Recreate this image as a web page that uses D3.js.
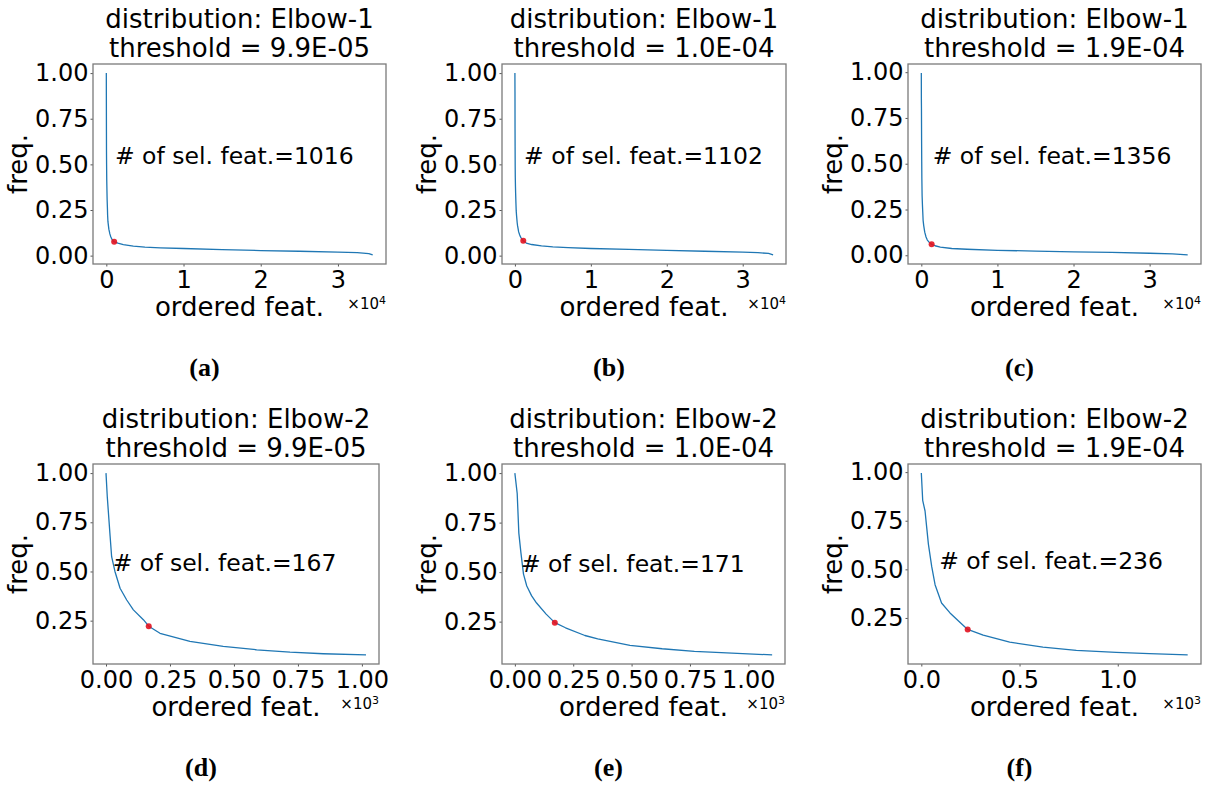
<!DOCTYPE html>
<html>
<head>
<meta charset="utf-8">
<script src="https://cdn.jsdelivr.net/npm/d3@7"></script>
<style>
  body { margin: 0; background: #fff; }
  svg { display: block; }
  text { font-family: "DejaVu Sans", sans-serif; fill: #000; }
</style>
</head>
<body>
<svg id="fig" width="1207" height="786"></svg>
<script>
// ---- data: ordered feature rank vs. normalised frequency ----
// head of each ranking (the features kept by Elbow-1, re-ranked for Elbow-2)
const headLow  = [[0,1.0],[5,0.88],[16,0.68],[22,0.575],[35,0.5],[55,0.415],[81,0.355],[107,0.305],[146,0.255],[167,0.222],[211,0.186],[328,0.145],[458,0.119],[589,0.102],[719,0.09],[849,0.082],[1016,0.076]];
const headMid  = [[0,1.0],[10,0.897],[17,0.697],[26,0.597],[37,0.49],[51,0.43],[72,0.38],[93,0.344],[134,0.288],[171,0.245],[217,0.219],[300,0.18],[355,0.163],[493,0.13],[631,0.113],[769,0.1],[907,0.092],[1102,0.082]];
const headHigh = [[0,0.995],[7,0.855],[19,0.8],[27,0.72],[36,0.63],[53,0.514],[70,0.421],[103,0.327],[146,0.276],[188,0.236],[236,0.191],[315,0.162],[450,0.126],[619,0.1],[789,0.083],[992,0.073],[1161,0.067],[1356,0.06]];
// long tails of the full rankings
const tailLow  = [[1500,0.068],[2200,0.060],[3500,0.052],[5000,0.047],[7000,0.043],[10000,0.039],[15000,0.033],[20000,0.028],[25000,0.024],[30000,0.019],[32500,0.016],[34000,0.011],[34500,0.004]];
const tailMid  = [[1500,0.069],[2200,0.061],[3500,0.053],[5000,0.048],[7000,0.044],[10000,0.039],[15000,0.034],[20000,0.029],[25000,0.024],[30000,0.019],[32000,0.016],[33400,0.012],[34000,0.004]];
const tailHigh = [[1800,0.052],[2500,0.045],[4000,0.037],[6000,0.033],[10000,0.027],[15000,0.023],[20000,0.019],[25000,0.016],[30000,0.011],[33000,0.008],[35000,0.002]];

const thresholds   = ["9.9E-05", "1.0E-04", "1.9E-04"];
const selElbow1    = [1016, 1102, 1356];
const selElbow2    = [167, 171, 236];
const noteXElbow1  = [1118, 1212, 1492];   // annotation anchor (feature rank)
const noteXElbow2  = [26, 26, 91];
const captions     = ["(a)", "(b)", "(c)", "(d)", "(e)", "(f)"];

const yTicksElbow1 = [0, 0.25, 0.5, 0.75, 1.0];
const yTicksElbow2 = [0.25, 0.5, 0.75, 1.0];
const xTicksElbow1 = [0, 10000, 20000, 30000];
const xTicksElbow2 = [[0, 250, 500, 750, 1000], [0, 250, 500, 750, 1000], [0, 500, 1000]];

// ---- layout: plot boxes [left, top, right, bottom] ----
const boxes = [
  [93, 64, 386, 264], [502, 64, 786, 264], [908, 64, 1201, 264],
  [93, 464, 379, 664], [502, 464, 785, 664], [908, 464, 1201, 664]
];

const heads = [headLow, headMid, headHigh];
const tails = [tailLow, tailMid, tailHigh];

const panels = [];
for (let i = 0; i < 3; i++) {
  panels.push({
    method: "Elbow-1", thr: thresholds[i], curve: heads[i].concat(tails[i]),
    sel: selElbow1[i], noteX: noteXElbow1[i],
    yTicks: yTicksElbow1, yFmt: d3.format(".2f"),
    xTicks: xTicksElbow1, xFmt: d => d3.format("d")(d / 1e4), exp: "4"
  });
}
for (let i = 0; i < 3; i++) {
  panels.push({
    method: "Elbow-2", thr: thresholds[i], curve: heads[i],
    sel: selElbow2[i], noteX: noteXElbow2[i],
    yTicks: yTicksElbow2, yFmt: d3.format(".2f"),
    xTicks: xTicksElbow2[i], xFmt: i === 2 ? (d => d3.format(".1f")(d / 1e3)) : (d => d3.format(".2f")(d / 1e3)), exp: "3"
  });
}

const svg = d3.select("#fig");

// 5% breathing room on both ends of a data range
function padded(ext) {
  const span = ext[1] - ext[0];
  return [ext[0] - 0.05 * span, ext[1] + 0.05 * span];
}

panels.forEach((p, k) => {
  const [L, T, R, B] = boxes[k];
  const x = d3.scaleLinear().domain(padded(d3.extent(p.curve, d => d[0]))).range([L, R]);
  const y = d3.scaleLinear().domain(padded(d3.extent(p.curve, d => d[1]))).range([B, T]);
  const g = svg.append("g");

  // axes
  const ya = g.append("g").attr("transform", `translate(${L},0)`)
    .call(d3.axisLeft(y).tickValues(p.yTicks).tickFormat(p.yFmt).tickSize(2.5).tickPadding(2));
  const xa = g.append("g").attr("transform", `translate(0,${B})`)
    .call(d3.axisBottom(x).tickValues(p.xTicks).tickFormat(p.xFmt).tickSize(2.5).tickPadding(4.5));
  [ya, xa].forEach(a => {
    a.select(".domain").remove();
    a.selectAll(".tick line").attr("stroke", "#555").attr("stroke-width", 1);
    a.selectAll(".tick text").style("font-family", "'DejaVu Sans', sans-serif").style("font-size", "24px").attr("fill", "#000");
  });

  // frame
  g.append("rect").attr("x", L).attr("y", T).attr("width", R - L).attr("height", B - T)
    .attr("fill", "none").attr("stroke", "#7a7a7a").attr("stroke-width", 1.3);

  // curve
  g.append("path").datum(p.curve)
    .attr("fill", "none").attr("stroke", "#1f77b4").attr("stroke-width", 1.3)
    .attr("stroke-linejoin", "round")
    .attr("d", d3.line().x(d => x(d[0])).y(d => y(d[1])));

  // elbow point
  const pt = p.curve.find(d => d[0] === p.sel);
  g.append("circle").attr("cx", x(pt[0])).attr("cy", y(pt[1])).attr("r", 3)
    .attr("fill", "#e3121f").attr("fill-opacity", 0.9);

  // annotation
  g.append("text").attr("x", x(p.noteX)).attr("y", y(0.5))
    .style("font-size", "23.5px").text(`# of sel. feat.=${p.sel}`);

  // title
  const cx = (L + R) / 2;
  g.append("text").attr("x", cx).attr("y", T - 36).attr("text-anchor", "middle")
    .style("font-size", "26px").text(`distribution: ${p.method}`);
  g.append("text").attr("x", cx).attr("y", T - 7.5).attr("text-anchor", "middle")
    .style("font-size", "26px").text(`threshold = ${p.thr}`);

  // axis labels
  g.append("text").attr("x", cx).attr("y", B + 52).attr("text-anchor", "middle")
    .style("font-size", "26px").text("ordered feat.");
  g.append("text").attr("transform", `translate(${L - 66},${(T + B) / 2}) rotate(-90)`)
    .attr("text-anchor", "middle").style("font-size", "26px").text("freq.");

  // scale factor of the x axis
  const off = g.append("text").attr("x", R).attr("y", B + 45).attr("text-anchor", "end")
    .style("font-size", "15px");
  off.append("tspan").text("×10");
  off.append("tspan").attr("dy", -5).style("font-size", "11px").text(p.exp);

  // sub-figure caption
  g.append("text").attr("x", cx - 35).attr("y", B + 112).attr("text-anchor", "middle")
    .style("font-family", "'Liberation Serif', 'Times New Roman', serif")
    .style("font-weight", "bold").style("font-size", "26px").text(captions[k]);
});
</script>
</body>
</html>
